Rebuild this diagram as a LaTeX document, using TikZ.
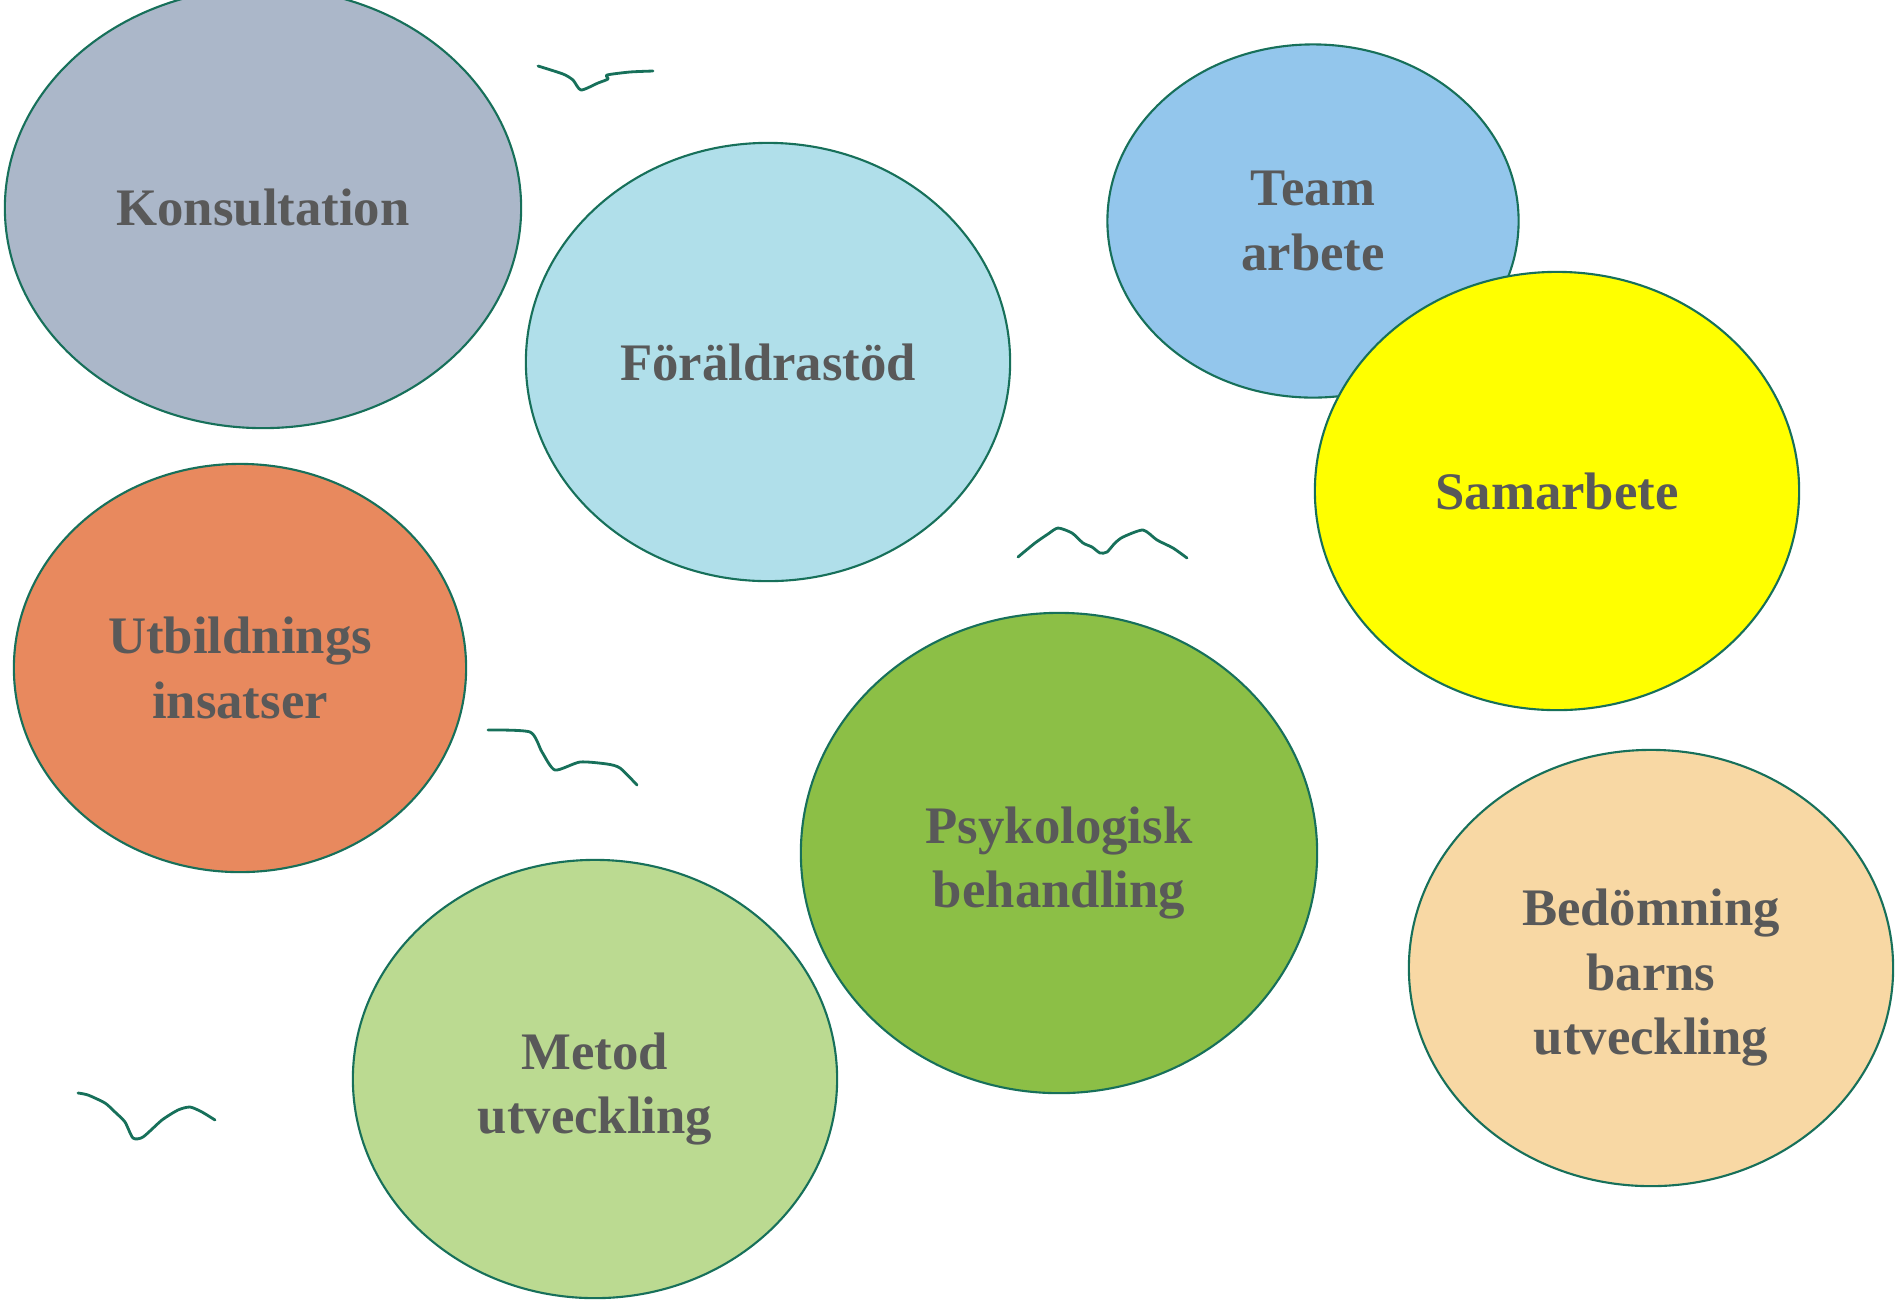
\documentclass[tikz,border=0pt]{standalone}
\usepackage{fontspec}
\setmainfont{Liberation Serif}
\usetikzlibrary{shapes}
\definecolor{rim}{HTML}{17705A}
\definecolor{txtgray}{HTML}{595959}
\definecolor{konsblue}{HTML}{ABB7C9}
\definecolor{foralblue}{HTML}{B0DFEA}
\definecolor{teamblue}{HTML}{93C6EC}
\definecolor{samyellow}{HTML}{FFFF00}
\definecolor{utbred}{HTML}{E8895E}
\definecolor{psykgreen}{HTML}{8CBF46}
\definecolor{bedsand}{HTML}{F8D8A4}
\definecolor{metgreen}{HTML}{BBDA91}

\begin{document}
\begin{tikzpicture}[x=0.01cm,y=-0.01cm,
		bubble/.style={ellipse, draw=rim, line width=0.6pt, inner sep=0pt, align=center, text=txtgray, font=\bfseries\fontsize{15}{18.3}\selectfont},
		wave/.style={draw=rim, line width=0.8pt, line join=round, line cap=round}]
		
		\useasboundingbox (0,0) rectangle (1897,1299);
		
		% bubbles
		\node[bubble, fill=konsblue, minimum width=5.16cm, minimum height=4.40cm] (kons) at (263,208) {Konsultation};
		\node[bubble, fill=foralblue, minimum width=4.84cm, minimum height=4.38cm] (foral) at (768,362) {Föräldrastöd};
		\node[bubble, fill=teamblue, minimum width=4.11cm, minimum height=3.53cm] (team) at (1313,221) {\rule{0pt}{3pt}Team\\arbete};
		\node[bubble, fill=samyellow, minimum width=4.84cm, minimum height=4.38cm] (sam) at (1557,491) {Samarbete};
		\node[bubble, fill=utbred, minimum width=4.52cm, minimum height=4.08cm] (utb) at (240,668) {Utbildnings\\insatser};
		\node[bubble, fill=psykgreen, minimum width=5.16cm, minimum height=4.80cm] (psyk) at (1059,853) {\rule{0pt}{16pt}Psykologisk\\behandling};
		\node[bubble, fill=bedsand, minimum width=4.84cm, minimum height=4.36cm] (bed) at (1651,968) {\rule{0pt}{16pt}Bedömning\\barns\\utveckling};
		\node[bubble, fill=metgreen, minimum width=4.84cm, minimum height=4.38cm] (met) at (595,1079) {\rule{0pt}{16pt}Metod\\utveckling};
		
		% small strokes
		\draw[wave] plot[smooth, tension=0.4] coordinates {(538,66) (563,74) (573,80) (581,90) (598,83) (608,79) (607,75) (630,72) (653,71)};
		\draw[wave] plot[smooth, tension=0.4] coordinates {(1018,557) (1035,543) (1048,534) (1058,528) (1072,533) (1083,543) (1092,547) (1100,553) (1107,552) (1115,543) (1123,537) (1143,530) (1157,540) (1173,548) (1187,558)};
		\draw[wave] plot[smooth, tension=0.4] coordinates {(488,730) (530,732) (542,752) (555,770) (580,762) (607,764) (620,768) (637,785)};
		\draw[wave] plot[smooth, tension=0.4] coordinates {(78,1093) (88,1095) (105,1103) (115,1112) (125,1122) (133,1138) (143,1137) (162,1120) (178,1110) (190,1107) (202,1112) (215,1120)};
		
	\end{tikzpicture}
\end{document}
